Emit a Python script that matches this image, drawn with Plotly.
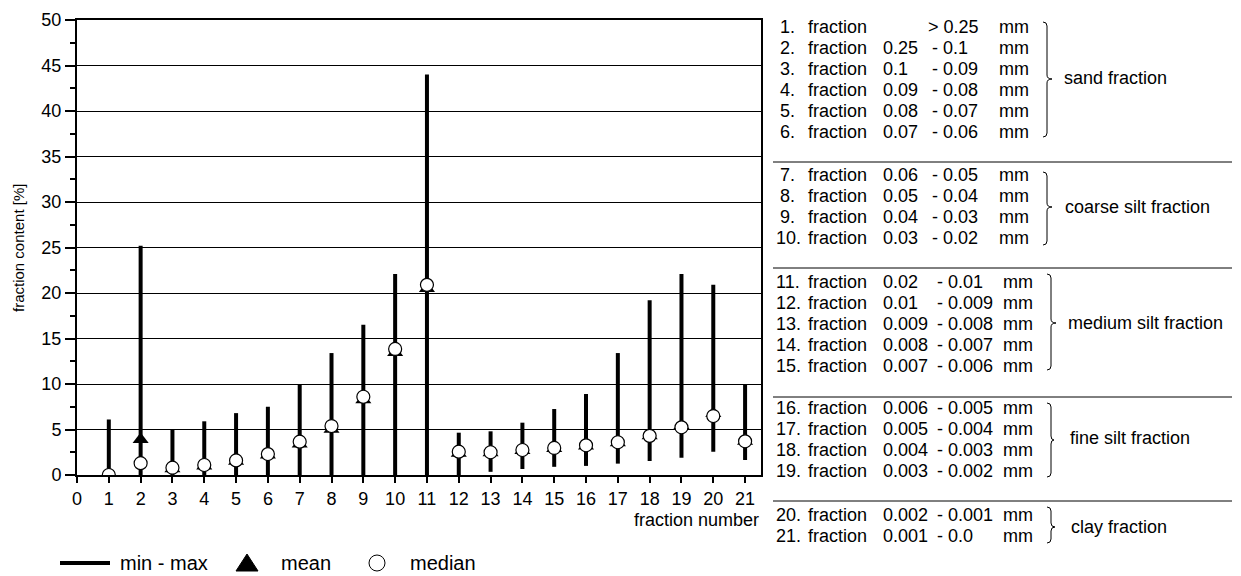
import plotly.graph_objects as go

W, H = 1241, 576
OFF = 8  # page body margin offset

# ---------------- data ----------------
fraction_no = list(range(1, 22))
val_min = [0, 0, 0, 0, 0, 0, 0, 0, 0, 0, 0, 0, 0.35, 0.66, 0.9, 1.0, 1.25, 1.55, 1.9, 2.56, 1.65]
val_max = [6.1, 25.2, 5.0, 5.9, 6.8, 7.5, 9.9, 13.4, 16.5, 22.1, 44.0, 4.65, 4.8, 5.75, 7.25,
           8.9, 13.4, 19.2, 22.1, 20.9, 10.0]
val_mean = [0.05, 3.9, 0.7, 1.0, 1.5, 2.2, 3.4, 5.03, 8.26, 13.46, 20.5, 2.4, 2.45, 2.7, 2.9,
            3.2, 3.55, 4.3, 5.45, 6.75, 3.7]
val_median = [0.0, 1.3, 0.8, 1.1, 1.6, 2.3, 3.66, 5.38, 8.6, 13.85, 20.9, 2.56, 2.5, 2.75, 2.97,
              3.26, 3.6, 4.3, 5.24, 6.48, 3.7]

range_lo = ["", "0.25", "0.1", "0.09", "0.08", "0.07", "0.06", "0.05", "0.04", "0.03", "0.02",
            "0.01", "0.009", "0.008", "0.007", "0.006", "0.005", "0.004", "0.003", "0.002", "0.001"]
range_hi = ["> 0.25", "- 0.1", "- 0.09", "- 0.08", "- 0.07", "- 0.06", "- 0.05", "- 0.04",
            "- 0.03", "- 0.02", "- 0.01", "- 0.009", "- 0.008", "- 0.007", "- 0.006", "- 0.005",
            "- 0.004", "- 0.003", "- 0.002", "- 0.001", "- 0.0"]
group_names = ["sand fraction", "coarse silt fraction", "medium silt fraction",
               "fine silt fraction", "clay fraction"]
group_sizes = [6, 4, 5, 4, 2]

FONT = "Liberation Sans, Arial, sans-serif"


def px(x):
    return (x - OFF) / W


def py(y):
    return 1 - (y - OFF) / H


# ---------------- traces ----------------
bx, by = [], []
for f, lo, hi in zip(fraction_no, val_min, val_max):
    bx += [f, f, None]
    by += [lo, hi, None]

fig = go.Figure()
fig.add_trace(go.Scatter(x=bx, y=by, mode="lines", line=dict(color="black", width=4),
                         showlegend=False, hoverinfo="skip"))
fig.add_trace(go.Scatter(x=fraction_no, y=val_mean, mode="markers",
                         marker=dict(symbol="triangle-up", size=14, color="black",
                                     line=dict(width=0)),
                         showlegend=False, name="mean"))
fig.add_trace(go.Scatter(x=fraction_no, y=val_median, mode="markers",
                         marker=dict(symbol="circle", size=13, color="white",
                                     line=dict(color="black", width=1.2)),
                         showlegend=False, name="median"))

# ---------------- layout ----------------
X0, X1, Y0, Y1 = 77, 761, 20, 475
fig.update_layout(
    template="none",
    width=W, height=H, autosize=False,
    margin=dict(l=0, r=0, t=0, b=0, pad=0),
    showlegend=False,
    paper_bgcolor="white", plot_bgcolor="white",
    font=dict(family=FONT, color="black", size=18),
    xaxis=dict(domain=[px(X0), px(X1)], range=[0, 21.5], tick0=0, dtick=1,
               automargin=False,
               ticks="outside", ticklen=6, tickwidth=1.5, tickcolor="black",
               showgrid=False, zeroline=False, showline=True, linewidth=2,
               linecolor="black", mirror=True, tickfont=dict(size=18)),
    yaxis=dict(domain=[py(Y1), py(Y0)], range=[0, 50], tick0=0, dtick=5,
               automargin=False,
               ticks="outside", ticklen=10, tickwidth=1.5, tickcolor="black",
               showgrid=True, gridcolor="black", gridwidth=1,
               zeroline=False, showline=True, linewidth=2, linecolor="black",
               mirror=True, tickfont=dict(size=18),
               minor=dict(dtick=2.5, ticks="outside", ticklen=5, tickwidth=1.5,
                          tickcolor="black", showgrid=False)),
)

ann = []
shapes = []

# axis titles
ann.append(dict(x=px(18), y=py(248), xref="paper", yref="paper", text="fraction content [%]",
                textangle=-90, showarrow=False, font=dict(size=15),
                xanchor="center", yanchor="middle"))
ann.append(dict(x=px(761), y=py(520), xref="paper", yref="paper", text="fraction number",
                showarrow=False, font=dict(size=18), xanchor="right", yanchor="middle"))

# fraction list on the right
group_start_y = [27, 175, 282, 408, 515]
group_label_x = [1062, 1063, 1066, 1068, 1069]
group_label_y = [78, 207, 323, 438, 527]
braces = [(1043, 1052, 22, 79, 137), (1043, 1052, 172, 207, 245),
          (1047, 1056, 274, 323, 370), (1047, 1054, 403, 440, 477),
          (1047, 1055, 507, 527, 543)]
PITCH = 21

idx = 0
for g, (name, n) in enumerate(zip(group_names, group_sizes)):
    for k in range(n):
        i = idx + k
        yrow = group_start_y[g] + k * PITCH
        num = fraction_no[i]
        late = i >= 10
        cols = [
            (774 if num >= 10 else 778, f"{num}."),
            (806, "fraction"),
            (881, range_lo[i]),
            ((926 if i == 0 else 930) if not late else 935, range_hi[i]),
            (997 if not late else 1001, "mm"),
        ]
        for xc, t in cols:
            if not t:
                continue
            ann.append(dict(x=px(xc), y=py(yrow), xref="paper", yref="paper", text=t,
                            showarrow=False, xanchor="left", yanchor="middle",
                            font=dict(size=18)))
    idx += n
    ann.append(dict(x=px(group_label_x[g]), y=py(group_label_y[g]), xref="paper",
                    yref="paper", text=name, showarrow=False, xanchor="left",
                    yanchor="middle", font=dict(size=18)))
    # brace
    x0, x1, top, tip, bot = braces[g]
    xm = x0 + 4
    r = 4
    path = (f"M {px(x0)},{py(top)} Q {px(xm)},{py(top)} {px(xm)},{py(top + r)} "
            f"L {px(xm)},{py(tip - r)} Q {px(xm)},{py(tip)} {px(x1)},{py(tip)} "
            f"Q {px(xm)},{py(tip)} {px(xm)},{py(tip + r)} "
            f"L {px(xm)},{py(bot - r)} Q {px(xm)},{py(bot)} {px(x0)},{py(bot)}")
    shapes.append(dict(type="path", path=path, xref="paper", yref="paper",
                       line=dict(color="black", width=1)))

for ys in [162, 268, 397, 501]:
    shapes.append(dict(type="line", x0=px(773), x1=px(1232), y0=py(ys), y1=py(ys),
                       xref="paper", yref="paper", line=dict(color="black", width=1)))

# legend at bottom
LY = 563
shapes.append(dict(type="line", x0=px(60), x1=px(110), y0=py(LY), y1=py(LY),
                   xref="paper", yref="paper", line=dict(color="black", width=4)))
shapes.append(dict(type="path",
                   path=f"M {px(236)},{py(571)} L {px(258)},{py(571)} L {px(247)},{py(554)} Z",
                   xref="paper", yref="paper", fillcolor="black",
                   line=dict(color="black", width=1)))
shapes.append(dict(type="circle", x0=px(369), x1=px(385), y0=py(571), y1=py(555),
                   xref="paper", yref="paper", fillcolor="white",
                   line=dict(color="black", width=1)))
for xl, t in [(118, "min - max"), (279, "mean"), (408, "median")]:
    ann.append(dict(x=px(xl), y=py(LY), xref="paper", yref="paper", text=t,
                    showarrow=False, xanchor="left", yanchor="middle",
                    font=dict(size=20)))

fig.update_layout(annotations=ann, shapes=shapes)
fig.write_html("out.html")
